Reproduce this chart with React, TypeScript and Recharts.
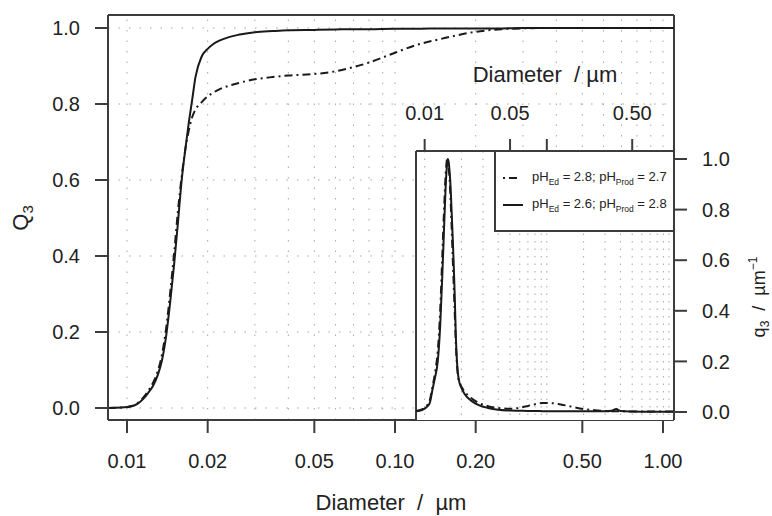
import { ComposedChart, Line, XAxis, YAxis, CartesianGrid, ReferenceLine } from "recharts";

const FONT = '"Liberation Sans", Arial, sans-serif';
const INK = "#1a1a1a";
const BOX = "#3c3c3c";
const GRID = "#a6a6a6";
const DASHDOT = "8 4 2 4";

// shared log x domain (diameter in µm)
const xLo = 0.008494;
const xHi = 1.099;

const mainXTicks = [0.01, 0.02, 0.05, 0.1, 0.2, 0.5, 1.0];
const insetXTicks = [0.01, 0.05, 0.1, 0.5];
const yTicks = [0, 0.2, 0.4, 0.6, 0.8, 1.0];
const gridX = [
  0.01, 0.02, 0.03, 0.04, 0.05, 0.06, 0.07, 0.08, 0.09,
  0.1, 0.2, 0.3, 0.4, 0.5, 0.6, 0.7, 0.8, 0.9, 1.0,
];

// cumulative distribution Q3
const cumDiameter = [
  0.0085, 0.0095, 0.0105, 0.011, 0.0115, 0.012, 0.0125, 0.013, 0.0135, 0.014,
  0.0145, 0.015, 0.0155, 0.016, 0.0165, 0.017, 0.0175, 0.018, 0.019, 0.02,
  0.021, 0.022, 0.024, 0.026, 0.03, 0.035, 0.04, 0.05, 0.06, 0.07,
  0.08, 0.1, 0.12, 0.15, 0.2, 0.25, 0.3, 0.4, 0.5, 0.7, 1.0, 1.1,
];
const cumSolid = [
  0, 0.001, 0.005, 0.012, 0.024, 0.04, 0.058, 0.085, 0.125, 0.19,
  0.28, 0.38, 0.49, 0.6, 0.68, 0.75, 0.81, 0.87, 0.925, 0.945,
  0.958, 0.966, 0.976, 0.982, 0.989, 0.992, 0.994, 0.995, 0.996, 0.997,
  0.997, 0.998, 0.998, 0.999, 0.999, 0.999, 1.0, 1.0, 1.0, 1.0, 1.0, 1.0,
];
const cumDashDot = [
  0, 0.001, 0.006, 0.014, 0.027, 0.045, 0.066, 0.095, 0.14, 0.21,
  0.305, 0.41, 0.52, 0.61, 0.68, 0.73, 0.765, 0.785, 0.805, 0.82,
  0.83, 0.838, 0.848, 0.855, 0.865, 0.871, 0.875, 0.879, 0.886, 0.897,
  0.909, 0.935, 0.955, 0.972, 0.99, 0.997, 0.999, 1.0, 1.0, 1.0, 1.0, 1.0,
];

// density q3 (normalised), inset
const densDiameter = [
  0.0085, 0.0095, 0.0104, 0.011, 0.0116, 0.0122, 0.0128, 0.0134, 0.014, 0.0145,
  0.015, 0.0153, 0.01545, 0.0157, 0.016, 0.0163, 0.0166, 0.017, 0.0173, 0.0176,
  0.018, 0.0185, 0.019, 0.02, 0.0213, 0.024, 0.028, 0.033, 0.04, 0.05,
  0.06, 0.07, 0.08, 0.093, 0.11, 0.13, 0.16, 0.2, 0.26, 0.3,
  0.34, 0.37, 0.4, 0.5, 0.7, 1.1,
];
const densSolid = [
  0.003, 0.008, 0.02, 0.035, 0.09, 0.14, 0.2, 0.34, 0.56, 0.76,
  0.93, 0.985, 1.0, 0.99, 0.95, 0.89, 0.8, 0.68, 0.58, 0.47,
  0.3, 0.18, 0.13, 0.095, 0.07, 0.045, 0.026, 0.016, 0.009, 0.006,
  0.005, 0.004, 0.004, 0.003, 0.003, 0.003, 0.003, 0.003, 0.003, 0.003,
  0.005, 0.012, 0.004, 0.002, 0.001, 0.001,
];
const densDashDot = [
  0.004, 0.01, 0.025, 0.045, 0.1, 0.16, 0.24, 0.4, 0.64, 0.83,
  0.97, 1.0, 0.995, 0.97, 0.92, 0.84, 0.74, 0.6, 0.5, 0.4,
  0.27, 0.17, 0.125, 0.1, 0.08, 0.055, 0.035, 0.023, 0.016, 0.013,
  0.017, 0.024, 0.031, 0.036, 0.035, 0.03, 0.021, 0.012, 0.006, 0.004,
  0.003, 0.003, 0.003, 0.002, 0.002, 0.002,
];

const mainYLo = -0.0316;
const mainYHi = 1.0342;
const insetYLo = -0.0316;
const insetYHi = 1.0316;

const tickText = { fontSize: 20, fill: "#222", fontFamily: FONT };

function LegendRow({ top, dashed, ed, prod }: { top: number; dashed: boolean; ed: string; prod: string }) {
  return (
    <div style={{ position: "absolute", left: 6, top: top - 9, height: 18, display: "flex", alignItems: "center" }}>
      <svg width={22} height={10}>
        <line x1={1} y1={5} x2={21} y2={5} stroke={INK} strokeWidth={2} strokeDasharray={dashed ? "2 4 8 20" : undefined} />
      </svg>
      <span style={{ marginLeft: 8, fontSize: 13, color: "#222", whiteSpace: "pre" }}>
        pH<sub style={{ fontSize: 8.5 }}>Ed</sub> = {ed}; pH<sub style={{ fontSize: 8.5 }}>Prod</sub> = {prod}
      </span>
    </div>
  );
}

export default function App() {
  const mainData = cumDiameter.map((d, i) => ({ d, solid: cumSolid[i], dash: cumDashDot[i] }));
  const insetData = densDiameter.map((d, i) => ({ d, solid: densSolid[i], dash: densDashDot[i] }));

  return (
    <div style={{ position: "absolute", left: 0, top: 0, width: 772, height: 516, background: "#fff", fontFamily: FONT }}>
      <div style={{ position: "absolute", left: 0, top: 0 }}>
        <ComposedChart width={772} height={516} data={mainData} margin={{ top: 15, right: 98, bottom: 0, left: 0 }}>
          <CartesianGrid vertical={false} stroke={GRID} strokeDasharray="1.5 9" />
          {gridX.map((v) => (
            <ReferenceLine key={v} x={v} stroke={GRID} strokeDasharray="1.5 9" ifOverflow="visible" />
          ))}
          <XAxis
            dataKey="d"
            type="number"
            scale="log"
            domain={[xLo, xHi]}
            allowDataOverflow
            ticks={mainXTicks}
            interval={0}
            tickFormatter={(v: number) => v.toFixed(2)}
            height={96}
            tickSize={13}
            tickMargin={21}
            tick={tickText}
            stroke={BOX}
            strokeWidth={2}
          />
          <YAxis
            type="number"
            domain={[mainYLo, mainYHi]}
            allowDataOverflow
            ticks={yTicks}
            interval={0}
            tickFormatter={(v: number) => v.toFixed(1)}
            width={108}
            tickSize={13}
            tickMargin={15}
            tick={tickText}
            stroke={BOX}
            strokeWidth={2}
          />
          <ReferenceLine y={mainYHi} stroke={BOX} strokeWidth={2} ifOverflow="visible" />
          <ReferenceLine x={xHi} stroke={BOX} strokeWidth={2} ifOverflow="visible" />
          <Line type="monotone" dataKey="dash" stroke={INK} strokeWidth={2} strokeDasharray={DASHDOT} dot={false} isAnimationActive={false} />
          <Line type="monotone" dataKey="solid" stroke={INK} strokeWidth={2} dot={false} isAnimationActive={false} />
        </ComposedChart>
      </div>

      <div style={{ position: "absolute", left: 416, top: 151, width: 258, height: 269, background: "#fff" }} />

      <div style={{ position: "absolute", left: 380, top: 50 }}>
        <ComposedChart width={392} height={380} data={insetData} margin={{ top: 0, right: 0, bottom: 10, left: 36 }}>
          {gridX.map((v) => (
            <ReferenceLine key={v} x={v} stroke={GRID} strokeDasharray="1.5 6" ifOverflow="visible" />
          ))}
          <XAxis
            orientation="top"
            dataKey="d"
            type="number"
            scale="log"
            domain={[xLo, xHi]}
            allowDataOverflow
            ticks={insetXTicks}
            interval={0}
            tickFormatter={(v: number) => (v === 0.1 ? "" : v.toFixed(2))}
            height={101}
            tickSize={12}
            tickMargin={19}
            tick={tickText}
            stroke={BOX}
            strokeWidth={2}
          />
          <YAxis
            orientation="right"
            type="number"
            domain={[insetYLo, insetYHi]}
            allowDataOverflow
            ticks={yTicks}
            interval={0}
            tickFormatter={(v: number) => v.toFixed(1)}
            width={98}
            tickSize={13}
            tickMargin={15}
            tick={tickText}
            stroke={BOX}
            strokeWidth={2}
          />
          <ReferenceLine x={xLo} stroke={BOX} strokeWidth={2} ifOverflow="visible" />
          <Line type="monotone" dataKey="dash" stroke={INK} strokeWidth={2} strokeDasharray={DASHDOT} dot={false} isAnimationActive={false} />
          <Line type="monotone" dataKey="solid" stroke={INK} strokeWidth={2} dot={false} isAnimationActive={false} />
        </ComposedChart>
      </div>

      <div
        style={{
          position: "absolute",
          left: 494,
          top: 150,
          width: 181,
          height: 82,
          boxSizing: "border-box",
          border: `2px solid ${BOX}`,
          background: "#fff",
        }}
      >
        <LegendRow top={26} dashed ed="2.8" prod="2.7" />
        <LegendRow top={53} dashed={false} ed="2.6" prod="2.8" />
      </div>

      <svg width={772} height={516} style={{ position: "absolute", left: 0, top: 0, pointerEvents: "none" }}>
        <text x={391} y={510} textAnchor="middle" fontSize={22} fill="#222" fontFamily={FONT} style={{ whiteSpace: "pre" }}>
          Diameter  /  µm
        </text>
        <text x={545} y={82} textAnchor="middle" fontSize={22} fill="#222" fontFamily={FONT} style={{ whiteSpace: "pre" }}>
          Diameter  / µm
        </text>
        <text transform="translate(28,218) rotate(-90)" textAnchor="middle" fontSize={22} fill="#222" fontFamily={FONT}>
          Q<tspan fontSize={15} dy={5}>3</tspan>
        </text>
        <text transform="translate(765,297) rotate(-90)" textAnchor="middle" fontSize={18} fill="#222" fontFamily={FONT} style={{ whiteSpace: "pre" }}>
          q<tspan fontSize={12} dy={4}>3</tspan>
          <tspan dy={-4}>  /  µm</tspan>
          <tspan fontSize={12} dy={-8}>−1</tspan>
        </text>
      </svg>
    </div>
  );
}
